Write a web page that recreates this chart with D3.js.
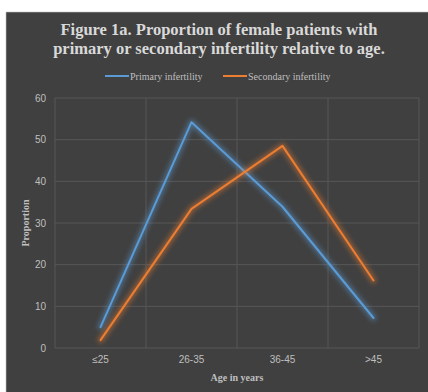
<!DOCTYPE html>
<html>
<head>
<meta charset="utf-8">
<title>Figure 1a</title>
<script src="https://d3js.org/d3.v7.min.js"></script>
<style>
  body { margin: 0; background: #fff; }
</style>
</head>
<body>
<div class="chart"></div>
<script>
// data
var categories = ['≤25', '26-35', '36-45', '>45']
var primary = [5.0, 54.2, 33.9, 7.2]
var secondary = [1.9, 33.4, 48.5, 16.2]
var seriesNames = ['Primary infertility', 'Secondary infertility']
var yTicks = [0, 10, 20, 30, 40, 50, 60]

var colors = ['#5B9BD5', '#ED7D31']
var width = 428, height = 392
var plot = { left: 55, right: 419, top: 98, bottom: 348 }

var svg = d3.select('.chart').append('svg')
  .attr('width', width).attr('height', height)

// glow filter
var defs = svg.append('defs')
colors.forEach(function (c, i) {
  var f = defs.append('filter').attr('id', 'glow' + i)
    .attr('x', '-20%').attr('y', '-20%').attr('width', '140%').attr('height', '140%')
  f.append('feGaussianBlur').attr('in', 'SourceGraphic').attr('stdDeviation', 2.4)
})

// panel
svg.append('rect').attr('x', 6).attr('y', 12).attr('width', width).attr('height', height)
  .attr('fill', '#404040').attr('stroke', '#bfbfbf').attr('stroke-width', 0.6)

var x = d3.scaleBand().domain(categories).range([plot.left, plot.right])
var y = d3.scaleLinear().domain([0, 60]).range([plot.bottom, plot.top])

// gridlines
svg.append('g').selectAll('line').data(yTicks).enter().append('line')
  .attr('x1', plot.left).attr('x2', plot.right)
  .attr('y1', d => y(d)).attr('y2', d => y(d))
  .attr('stroke', '#575757').attr('stroke-width', 1)
svg.append('g').selectAll('line').data(categories.concat(['end'])).enter().append('line')
  .attr('x1', (d, i) => i < categories.length ? x(d) : plot.right)
  .attr('x2', (d, i) => i < categories.length ? x(d) : plot.right)
  .attr('y1', plot.top).attr('y2', plot.bottom)
  .attr('stroke', '#575757').attr('stroke-width', 1)

// axes (labels only)
var yAxis = d3.axisLeft(y).tickValues(yTicks).tickSize(0).tickPadding(9)
svg.append('g').attr('transform', 'translate(' + plot.left + ',0)').call(yAxis)
var xAxis = d3.axisBottom(x).tickSize(0).tickPadding(8)
svg.append('g').attr('transform', 'translate(0,' + plot.bottom + ')').call(xAxis)
svg.selectAll('.domain').remove()
svg.selectAll('.tick text').attr('fill', '#bfbfbf')
  .style('font-family', '"Liberation Sans Narrow", "Liberation Sans", sans-serif').style('font-size', '10px')

// lines
var line = d3.line().x((d, i) => x(categories[i]) + x.bandwidth() / 2).y(d => y(d))
;[primary, secondary].forEach(function (s, i) {
  svg.append('path').attr('d', line(s)).attr('fill', 'none')
    .attr('stroke', colors[i]).attr('stroke-width', 5.5).attr('stroke-opacity', 0.5)
    .attr('stroke-linejoin', 'round').attr('stroke-linecap', 'round')
    .attr('filter', 'url(#glow' + i + ')')
  svg.append('path').attr('d', line(s)).attr('fill', 'none')
    .attr('stroke', colors[i]).attr('stroke-width', 2)
    .attr('stroke-linejoin', 'round').attr('stroke-linecap', 'round')
})

// title
var serif = '"Liberation Serif", "Times New Roman", serif'
var title = svg.append('text').attr('fill', '#d9d9d9')
  .attr('text-anchor', 'middle').style('font-family', serif)
  .style('font-size', '16.5px').style('font-weight', 'bold')
title.append('tspan').attr('x', 219).attr('y', 35).text('Figure 1a. Proportion of female patients with')
title.append('tspan').attr('x', 219).attr('y', 54).text('primary or secondary infertility relative to age.')

// legend
var legendX = [105, 223]
seriesNames.forEach(function (n, i) {
  svg.append('line').attr('x1', legendX[i]).attr('x2', legendX[i] + 24)
    .attr('y1', 76).attr('y2', 76).attr('stroke', colors[i]).attr('stroke-width', 2)
  svg.append('text').attr('x', legendX[i] + 25).attr('y', 79.5).attr('fill', '#bfbfbf')
    .style('font-family', serif).style('font-size', '10px').text(n)
})

// axis titles
svg.append('text').attr('x', (plot.left + plot.right) / 2).attr('y', 381)
  .attr('text-anchor', 'middle').attr('fill', '#bfbfbf')
  .style('font-family', serif).style('font-size', '10px').style('font-weight', 'bold')
  .text('Age in years')
svg.append('text').attr('transform', 'translate(29,223) rotate(-90)')
  .attr('text-anchor', 'middle').attr('fill', '#bfbfbf')
  .style('font-family', serif).style('font-size', '10px').style('font-weight', 'bold')
  .text('Proportion')
</script>
</body>
</html>
